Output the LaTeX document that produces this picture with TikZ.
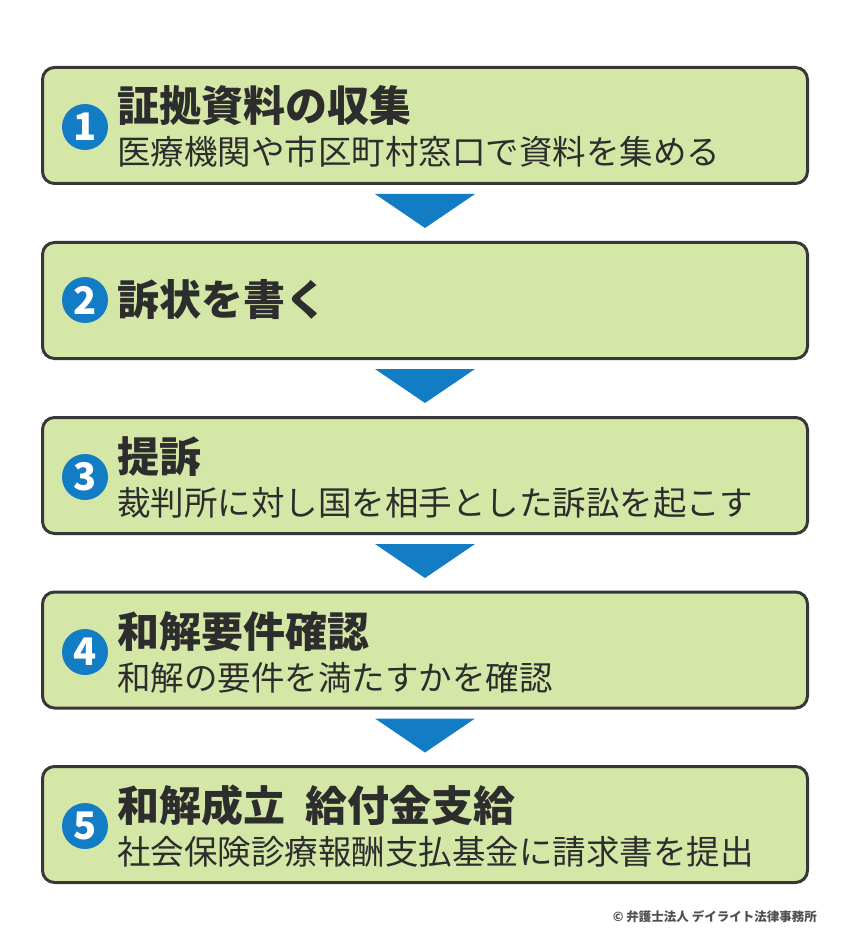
\documentclass[tikz,border=0pt]{standalone}
\usepackage{fontspec}
\newfontfamily\jp{Noto Sans CJK JP}
\definecolor{boxfill}{RGB}{213,231,167}
\definecolor{boxline}{RGB}{55,55,55}
\definecolor{txt}{RGB}{45,45,45}
\definecolor{numblue}{RGB}{18,124,196}
\definecolor{crgray}{RGB}{80,80,80}
\tikzset{
  stepbox/.style={draw=boxline, fill=boxfill, line width=3pt, rounded corners=12pt,
    minimum width=765pt, minimum height=116pt, inner sep=0pt},
  ttl/.style={anchor=base west, inner sep=0pt, text=txt, font=\jp\bfseries\fontsize{42}{42}\selectfont},
  sub/.style={anchor=base west, inner sep=0pt, text=txt, font=\jp\fontsize{33.5}{34}\selectfont},
  num/.style={circle, fill=numblue, minimum size=46pt, inner sep=0pt, text=white,
    font=\jp\bfseries\fontsize{38}{38}\selectfont},
  arr/.style={fill=numblue},
}
\begin{document}
\begin{tikzpicture}[x=1pt,y=-1pt]
\useasboundingbox (0,0) rectangle (850,949);
% boxes
\node[stepbox] (b1) at (425,125.5) {};
\node[stepbox] (b2) at (425,300.5) {};
\node[stepbox] (b3) at (425,475.5) {};
\node[stepbox] (b4) at (425,650) {};
\node[stepbox] (b5) at (425,824.5) {};
% numbers
\node[num] (n1) at (85,127) {1};
\node[num] (n2) at (85,300) {2};
\node[num] (n3) at (85,477) {3};
\node[num] (n4) at (85,652) {4};
\node[num] (n5) at (85,826) {5};
% texts
\node[ttl] (t1) at (117,122) {証拠資料の収集};
\node[sub] (s1) at (117,165) {医療機関や市区町村窓口で資料を集める};
\node[ttl] (t2) at (117,315) {訴状を書く};
\node[ttl] (t3) at (117,472) {提訴};
\node[sub] (s3) at (117,515) {裁判所に対し国を相手とした訴訟を起こす};
\node[ttl] (t4) at (117,647) {和解要件確認};
\node[sub] (s4) at (117,690) {和解の要件を満たすかを確認};
\node[ttl] (t5) at (117,821) {和解成立\hspace{20pt}給付金支給};
\node[sub] (s5) at (117,864) {社会保険診療報酬支払基金に請求書を提出};
% arrows
\foreach \a in {b1,b2,b3,b4}{
  \fill[arr] ([xshift=-50pt,yshift=-9pt]\a.south) -- ([xshift=50pt,yshift=-9pt]\a.south)
    -- ([yshift=-43pt]\a.south) -- cycle;
}
% copyright
\node[anchor=base east, inner sep=0pt, text=crgray, font=\jp\bfseries\fontsize{12.5}{13}\selectfont] (cr) at (817,921) {© 弁護士法人 デイライト法律事務所};
\end{tikzpicture}
\end{document}
